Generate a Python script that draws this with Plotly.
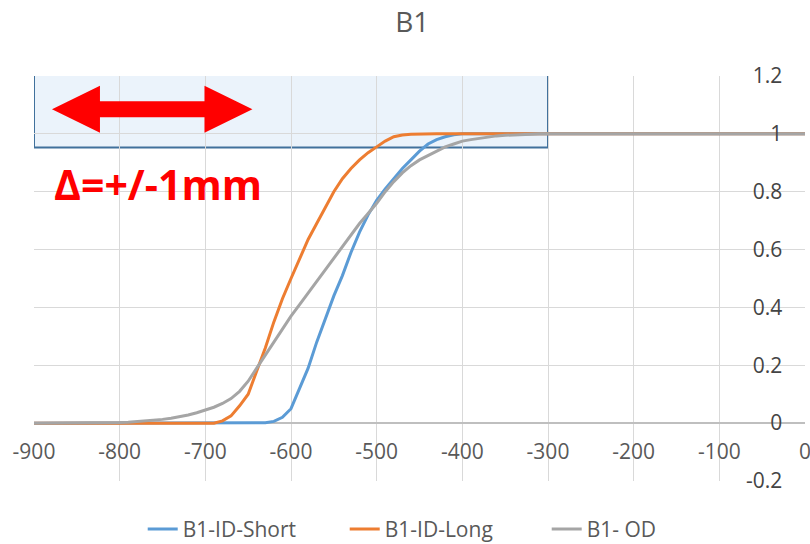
import plotly.graph_objects as go

# x positions (mm)
X = [-900, -850, -800, -790, -780, -770, -760, -750, -740, -730, -720, -710, -700,
     -690, -680, -670, -660, -650, -640, -630, -620, -610, -600, -590, -580, -570,
     -560, -550, -540, -530, -520, -510, -500, -490, -480, -470, -460, -450, -440,
     -430, -420, -410, -400, -390, -380, -370, -360, -350, -340, -330, -320, -310,
     -300, -250, -200, -150, -100, -50, 0]

id_short = [0, 0, 0,
            0, 0, 0, 0, 0, 0, 0, 0, 0, 0, 0, 0, 0, 0, 0, 0,
            0.001, 0.006, 0.02, 0.05, 0.12, 0.19, 0.28, 0.36, 0.44, 0.51, 0.59, 0.66,
            0.72, 0.77, 0.81, 0.845, 0.88, 0.91, 0.94, 0.965, 0.98, 0.99, 0.997,
            1, 1, 1, 1, 1, 1, 1, 1, 1, 1, 1,
            1, 1, 1, 1, 1, 1]

id_long = [0, 0, 0,
           0, 0, 0, 0, 0, 0, 0, 0, 0, 0,
           0, 0.008, 0.025, 0.06, 0.1, 0.18, 0.26, 0.35, 0.43, 0.5, 0.57, 0.635,
           0.69, 0.745, 0.8, 0.845, 0.88, 0.91, 0.935, 0.955, 0.975, 0.99, 0.996, 0.999,
           1, 1, 1, 1, 1, 1, 1, 1, 1, 1, 1, 1, 1, 1, 1, 1,
           1, 1, 1, 1, 1, 1]

od = [0, 0,
      0.002, 0.003, 0.005, 0.007, 0.01, 0.013, 0.017, 0.022, 0.028, 0.036, 0.045,
      0.055, 0.068, 0.085, 0.11, 0.145, 0.19, 0.235, 0.28, 0.325, 0.37, 0.41, 0.45,
      0.49, 0.53, 0.57, 0.61, 0.65, 0.69, 0.725, 0.76, 0.8, 0.835, 0.865, 0.89,
      0.91, 0.925, 0.94, 0.955, 0.965, 0.975, 0.98, 0.985, 0.99, 0.993, 0.995,
      0.997, 0.998, 0.999, 1, 1,
      1, 1, 1, 1, 1, 1]

series_names = ['B1-ID-Short', 'B1-ID-Long', 'B1- OD']
series_colors = ['#5B9BD5', '#ED7D31', '#A5A5A5']

X_TICKS = [-900, -800, -700, -600, -500, -400, -300, -200, -100, 0]
X_TICK_TEXT = ['-900', '-800', '-700', '-600', '-500', '-400', '-300', '-200', '-100', '0']
Y_TICKS = [-0.2, 0, 0.2, 0.4, 0.6, 0.8, 1, 1.2]
Y_TICK_TEXT = ['-0.2', '0', '0.2', '0.4', '0.6', '0.8', '1', '1.2']

# tolerance box / arrow (data units)
BOX_X = [-900, -300]
BOX_Y = [0.953, 1.21]
ARROW_X = [-879, -645]
ARROW_HEAD = 56
ARROW_Y = 1.085
ARROW_BODY = 0.028
ARROW_HEAD_H = 0.081

fig = go.Figure()
for ys, name, col in zip([id_short, id_long, od], series_names, series_colors):
    fig.add_trace(go.Scatter(x=X, y=ys, mode='lines', name=name,
                             line=dict(color=col, width=3)))

fig.add_shape(type='rect', x0=BOX_X[0], x1=BOX_X[1], y0=BOX_Y[0], y1=BOX_Y[1],
              line=dict(color='#41719C', width=2), fillcolor='#EBF3FB', layer='below')

ax0, ax1 = ARROW_X
pts = [(ax0, ARROW_Y), (ax0 + ARROW_HEAD, ARROW_Y + ARROW_HEAD_H),
       (ax0 + ARROW_HEAD, ARROW_Y + ARROW_BODY), (ax1 - ARROW_HEAD, ARROW_Y + ARROW_BODY),
       (ax1 - ARROW_HEAD, ARROW_Y + ARROW_HEAD_H), (ax1, ARROW_Y),
       (ax1 - ARROW_HEAD, ARROW_Y - ARROW_HEAD_H), (ax1 - ARROW_HEAD, ARROW_Y - ARROW_BODY),
       (ax0 + ARROW_HEAD, ARROW_Y - ARROW_BODY), (ax0 + ARROW_HEAD, ARROW_Y - ARROW_HEAD_H)]
path = 'M ' + ' L '.join(f'{px},{py}' for px, py in pts) + ' Z'
fig.add_shape(type='path', path=path, fillcolor='#FF0000', line=dict(width=0))

fig.add_annotation(x=-879, y=0.825, xref='x', yref='y', xanchor='left', yanchor='middle',
                   text='<b>Δ=+/-1mm</b>', showarrow=False,
                   font=dict(family='Open Sans', size=41, color='#FF0000'))

fig.update_layout(
    width=810, height=544,
    margin=dict(l=34, r=5, t=76, b=63),
    paper_bgcolor='white', plot_bgcolor='white',
    font=dict(family='Open Sans', size=21, color='#595959'),
    title=dict(text='B1', x=0.509, xanchor='center', y=0.96, yanchor='middle',
               font=dict(size=28, color='#595959')),
    showlegend=True,
    legend=dict(orientation='h', x=0.534, xanchor='center', yref='container', y=0.027,
                yanchor='middle', entrywidth=157, entrywidthmode='pixels',
                font=dict(size=21, color='#595959')),
    xaxis=dict(range=[-900, 0], tickvals=X_TICKS, ticktext=X_TICK_TEXT,
               showgrid=True, gridcolor='#D9D9D9', gridwidth=1, zeroline=False,
               showline=False, ticks='', anchor='free', position=0.2 / 1.4,
               ticklabelstandoff=14, ticklabeloverflow='allow', automargin=False),
    yaxis=dict(range=[-0.2, 1.2], tickvals=Y_TICKS, ticktext=Y_TICK_TEXT,
               side='right', ticklabelposition='inside', ticks='inside', ticklen=24,
               tickcolor='rgba(0,0,0,0)', ticklabeloverflow='allow', automargin=False,
               showgrid=True, gridcolor='#D9D9D9', gridwidth=1,
               zeroline=True, zerolinecolor='#BFBFBF', zerolinewidth=1.5,
               showline=False),
)

# drop the default page margin so the 810x544 figure fits the window exactly
fig.write_html("out.html", config={'displayModeBar': False},
               post_script="document.body.style.margin='0';")
